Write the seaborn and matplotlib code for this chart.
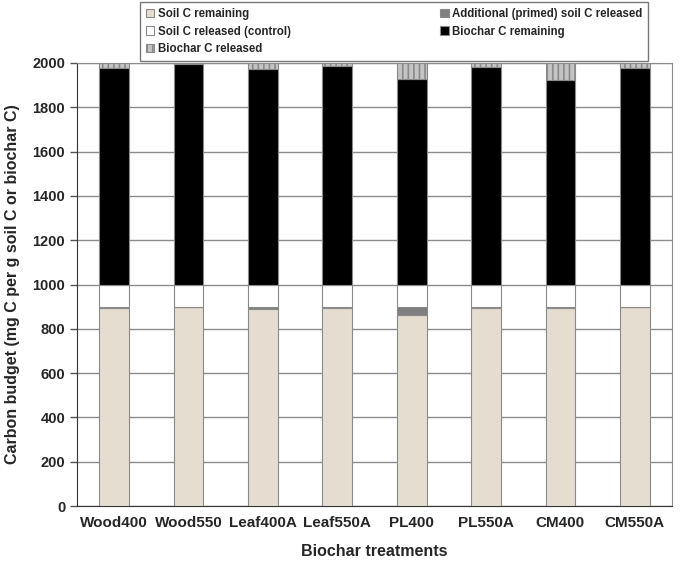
import numpy as np
import pandas as pd
import seaborn as sns
import matplotlib.pyplot as plt
from matplotlib.patches import Patch

treatments = ['Wood400', 'Wood550', 'Leaf400A', 'Leaf550A',
              'PL400', 'PL550A', 'CM400', 'CM550A']
soil_released_control = [100, 100, 100, 100, 100, 100, 100, 100]
primed_released = [5, 2, 12, 7, 37, 5, 6, 2]
soil_remaining = [895, 898, 888, 893, 863, 895, 894, 898]
biochar_released = [22, 5, 25, 13, 70, 20, 75, 24]
biochar_remaining = [978, 995, 975, 987, 930, 980, 925, 976]

df = pd.DataFrame({'Treatment': treatments,
                   'soil_rem': soil_remaining,
                   'primed': primed_released,
                   'control': soil_released_control,
                   'bc_rem': biochar_remaining,
                   'bc_rel': biochar_released})

sns.set_style('white')
plt.rcParams['font.family'] = ['Liberation Sans', 'DejaVu Sans']
plt.rcParams['font.weight'] = 'bold'
plt.rcParams['hatch.linewidth'] = 1.2

fig = plt.figure(figsize=(6.85, 5.65), dpi=100)
ax = fig.add_axes([0.1124, 0.1044, 0.8686, 0.7841])

edge = '#8a8a8a'
layers = [
    ('soil_rem', 'Soil C remaining', '#e4ddd0', None),
    ('primed', 'Additional (primed) soil C released', '#7f7f7f', None),
    ('control', 'Soil C released (control)', 'white', None),
    ('bc_rem', 'Biochar C remaining', 'black', None),
    ('bc_rel', 'Biochar C released', '#c4c4c4', '|||'),
]

bottom = np.zeros(len(df))
handles = {}
for col, label, color, hatch in layers:
    sns.barplot(data=df, x='Treatment', y=col, bottom=bottom, color=color,
                width=0.4, edgecolor=edge, linewidth=0.8, hatch=hatch,
                saturation=1, errorbar=None, ax=ax, zorder=3)
    handles[label] = Patch(facecolor=color, edgecolor=edge, hatch=hatch,
                           linewidth=0.8)
    bottom = bottom + df[col].values

ax.set_ylim(0, 2000)
ax.set_xlim(-0.5, len(treatments) - 0.5)
ax.set_yticks(np.arange(0, 2001, 200))
ax.yaxis.grid(True, color='#8c8c8c', linewidth=1.0, zorder=0)
ax.set_axisbelow(True)

ax.set_xticks(np.arange(-0.5, len(treatments)), minor=True)
ax.tick_params(axis='x', which='major', length=0, pad=7, labelsize=11)
ax.tick_params(axis='x', which='minor', length=5, width=1, color='#555555',
               direction='out')
ax.tick_params(axis='y', length=5, width=1, direction='out', color='#555555',
               labelsize=10.5, left=True)

for s in ['left', 'bottom']:
    ax.spines[s].set_color('#333333')
for s in ['top', 'right']:
    ax.spines[s].set_color('#8c8c8c')

ax.set_xlabel('Biochar treatments', fontsize=11.5, fontweight='bold', labelpad=10)
ax.set_ylabel('Carbon budget (mg C per g soil C or biochar C)', fontsize=11.5,
              fontweight='bold', labelpad=9)

order = ['Soil C remaining', 'Soil C released (control)', 'Biochar C released',
         'Additional (primed) soil C released', 'Biochar C remaining']
leg = fig.legend([handles[k] for k in order], order, ncol=2,
                 loc='upper left', mode='expand',
                 bbox_to_anchor=(140 / 685, 1 - 58 / 565, 508 / 685, 56 / 565),
                 frameon=True, fancybox=False, fontsize=8.3,
                 handlelength=0.75, handleheight=0.75, handletextpad=0.3,
                 labelspacing=0.5, borderaxespad=0, borderpad=0.5)
leg.get_frame().set_edgecolor('#555555')
leg.get_frame().set_linewidth(1)

fig.savefig('out.png', dpi=100)
